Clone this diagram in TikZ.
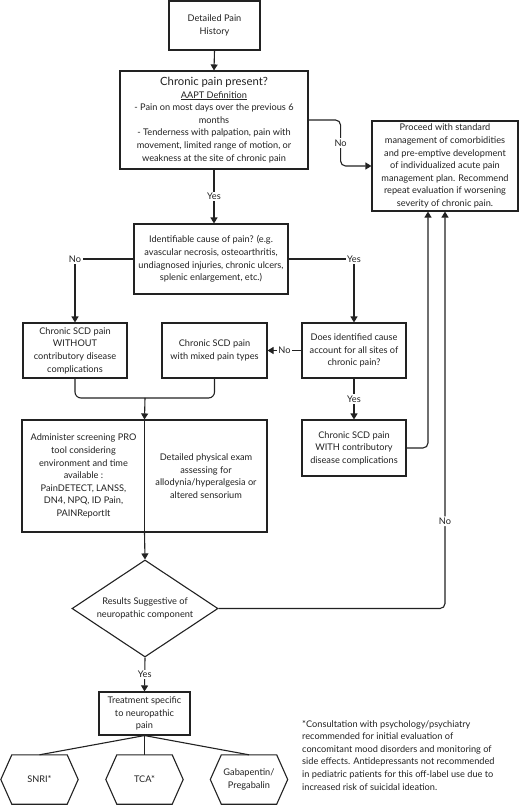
\documentclass[tikz,border=0pt]{standalone}
\usepackage{fontspec}
\setmainfont{Lato}
\usetikzlibrary{arrows.meta,shapes.geometric,calc}
\definecolor{ink}{HTML}{222222}
\tikzset{
  base/.style={font=\fontsize{9.2}{12.6}\selectfont, text=ink, align=center},
  box/.style={base, draw=ink, line width=1.1pt, inner sep=0pt},
  lbl/.style={base, fill=white, inner sep=1.5pt},
  conn/.style={draw=ink, line width=1.1pt},
  arr/.style={conn, -{Triangle[width=7pt,length=6pt]}},
  hexn/.style={base, inner sep=0pt, minimum width=77pt, minimum height=49pt},
}
\begin{document}
\begin{tikzpicture}[x=1pt,y=-1pt]
\useasboundingbox[fill=white] (0,0) rectangle (520,806);
% nodes
\node[box, minimum width=91pt, minimum height=49pt] (b1) at (214.5,25.5) {Detailed Pain\\History};
\node[box, minimum width=188pt, minimum height=98pt] (b2) at (214,120) {{\fontsize{11.3}{13}\selectfont Chronic pain present?}\\\underline{AAPT Definition}\\- Pain on most days over the previous 6\\months\\- Tenderness with palpation, pain with\\movement, limited range of motion, or\\weakness at the site of chronic pain};
\node[box, minimum width=146pt, minimum height=90pt] (b3) at (445,166) {Proceed with standard\\management of comorbidities\\and pre-emptive development\\of individualized acute pain\\management plan. Recommend\\repeat evaluation if worsening\\severity of chronic pain.};
\node[box, minimum width=154pt, minimum height=70pt] (b4) at (211,259) {Identifiable cause of pain? (e.g.\\avascular necrosis, osteoarthritis,\\undiagnosed injuries, chronic ulcers,\\splenic enlargement, etc.)};
\node[box, minimum width=104pt, minimum height=55pt] (b5) at (75,350.5) {Chronic SCD pain\\WITHOUT\\contributory disease\\complications};
\node[box, minimum width=105pt, minimum height=55pt] (b6) at (214.5,350.5) {Chronic SCD pain\\with mixed pain types};
\node[box, minimum width=104pt, minimum height=55pt] (b7) at (354,350.5) {Does identified cause\\account for all sites of\\chronic pain?};
\node[box, minimum width=104pt, minimum height=56pt] (b8) at (354,448) {Chronic SCD pain\\WITH contributory\\disease complications};
\node[box, minimum width=245pt, minimum height=112pt] (b9) at (144.5,476) {};
\node[base] (b9l) at (83.5,476) {Administer screening PRO\\tool considering\\environment and time\\available :\\PainDETECT, LANSS,\\DN4, NPQ, ID Pain,\\PAINReportIt};
\node[base] (b9r) at (206,476) {Detailed physical exam\\assessing for\\allodynia/hyperalgesia or\\altered sensorium};
\node[box, shape=diamond, minimum width=146pt, minimum height=97pt, aspect=1.5] (d) at (145,608.5) {Results Suggestive of\\neuropathic component};
\node[box, minimum width=91pt, minimum height=43pt] (b10) at (144.5,713.5) {Treatment specific\\to neuropathic\\pain};
\node[hexn] (h1) at (39.5,779.5) {SNRI*};
\node[hexn] (h2) at (144.5,779.5) {TCA*};
\node[hexn] (h3) at (249,779.5) {Gabapentin/\\Pregabalin};
\foreach \h in {h1,h2,h3}{
  \draw[conn, line join=miter] ([xshift=11pt]\h.north west) -- ([xshift=-11pt]\h.north east) -- (\h.east) -- ([xshift=-11pt]\h.south east) -- ([xshift=11pt]\h.south west) -- (\h.west) -- cycle;
}
\node[base, align=left, anchor=north west, inner sep=0pt] (fn) at (302,720) {*Consultation with psychology/psychiatry\\recommended for initial evaluation of\\concomitant mood disorders and monitoring of\\side effects. Antidepressants not recommended\\in pediatric patients for this off-label use due to\\increased risk of suicidal ideation.};
% connectors
\draw[arr] (b1.south) -- (b2.north);
\draw[arr, rounded corners=5pt] (b2.east) -- ++(32,0) |- node[lbl, pos=0.25]{No} (b3.west);
\draw[arr] (b2.south) -- node[lbl]{Yes} (b2.south |- b4.north);
\draw[arr] (b4.west) -| node[lbl]{No} (b5.north);
\draw[arr] (b4.east) -| node[lbl]{Yes} (b7.north);
\draw[arr] (b7.west) -- node[lbl]{No} (b6.east);
\draw[arr] (b7.south) -- node[lbl]{Yes} (b8.north);
\draw[arr, rounded corners=5pt] (b8.east) -| ([xshift=-17pt]b3.south);
\draw[arr, rounded corners=5pt] (d.east) -| node[lbl, pos=0.61]{No} (b3.south);
\coordinate (m) at (145,398);
\draw[conn, rounded corners=6pt] (b5.south) |- (m);
\draw[conn, rounded corners=6pt] (b6.south) |- (m);
\draw[arr] (m) -- (b9.north);
\draw[conn] (b9.north) -- (b9.south);
\draw[arr] (b9.south) -- (d.north);
\draw[arr] (d.south) -- node[lbl]{Yes} (b10.north);
\draw[conn] (b10.south) -- (h1.north);
\draw[conn] (b10.south) -- (h2.north);
\draw[conn] (b10.south) -- (h3.north);
\end{tikzpicture}
\end{document}
